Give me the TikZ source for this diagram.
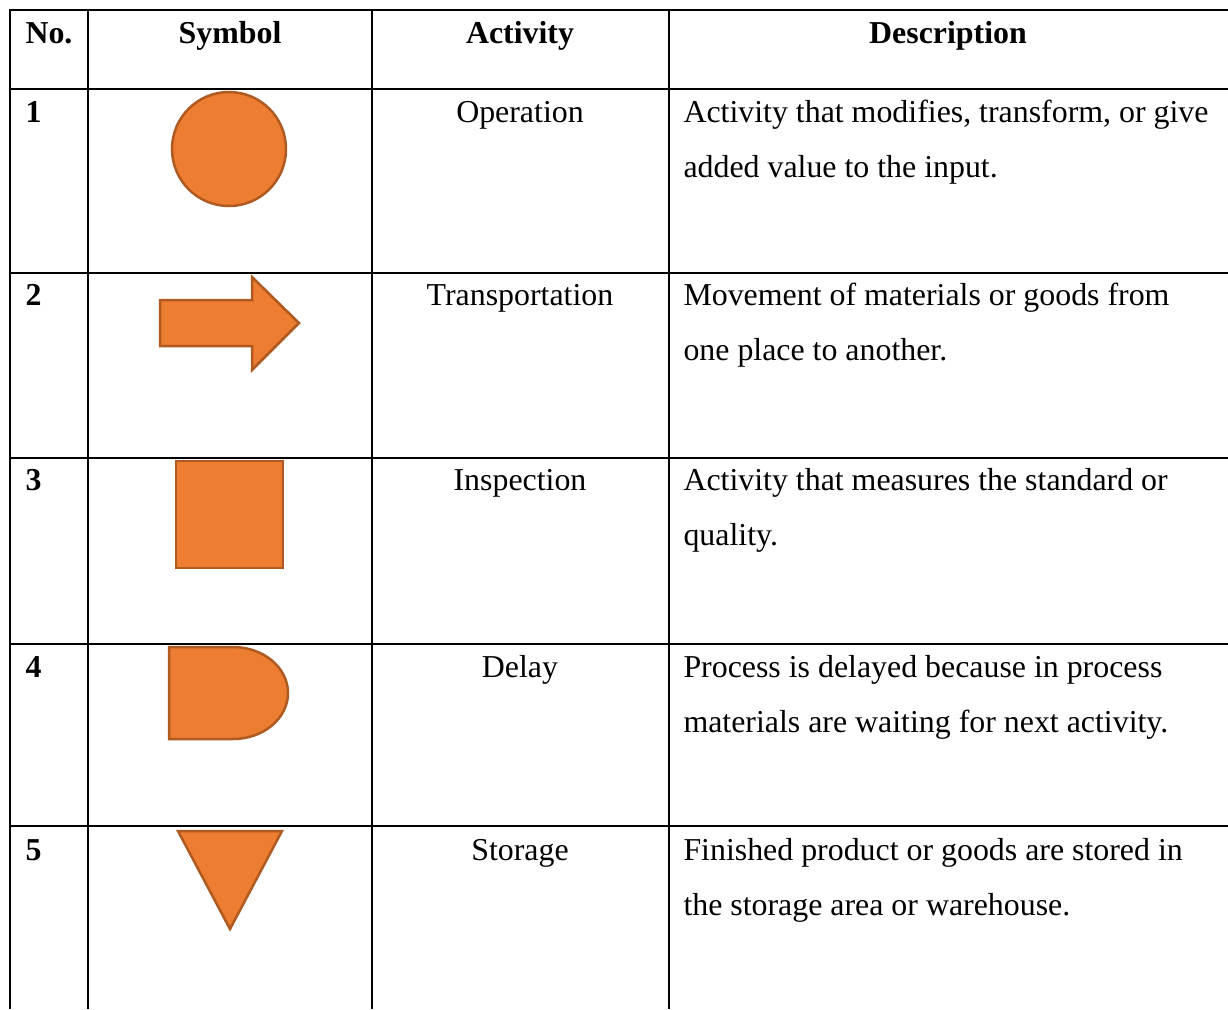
\documentclass[tikz,border=0pt]{standalone}
\usepackage{fontspec}
\setmainfont{Liberation Serif}
\definecolor{symfill}{HTML}{ED7D31}
\definecolor{symline}{HTML}{AE5A21}
\tikzset{
  tablerule/.style = {line width=0.85pt},
  symbol/.style = {fill=symfill, draw=symline, line width=1pt},
  head/.style = {font=\fontsize{12.75}{15}\selectfont\bfseries, inner sep=0pt, anchor=base},
  cell/.style = {font=\fontsize{12.75}{15}\selectfont, inner sep=0pt, anchor=base},
  desc/.style = {font=\fontsize{12.75}{15}\selectfont, inner sep=0pt, anchor=base west}
}
\begin{document}
\begin{tikzpicture}[x = 0.4pt, y = -0.4pt]
    \useasboundingbox (0, 0) rectangle (1228, 1009);
    % table rules
    \draw [tablerule] (10, 1009) -- (10, 10) -- (1228, 10);
    \foreach \xc in {88, 372, 669}
        \draw [tablerule] (\xc, 10) -- (\xc, 1009);
    \foreach \yr in {89, 273, 458, 644, 826}
        \draw [tablerule] (10, \yr) -- (1228, \yr);
    % header
    \node [head, anchor=base west] (h-no) at (25, 43) {No.};
    \node [head] (h-sym) at (230, 43) {Symbol};
    \node [head] (h-act) at (520, 43) {Activity};
    \node [head] (h-desc) at (948, 43) {Description};
    % numbers
    \foreach \n/\yb in {1/122, 2/305, 3/490, 4/677, 5/860}
        \node [head, anchor=base west] (no-\n) at (25, \yb) {\n};
    % activities
    \node [cell] (act-1) at (520, 122) {Operation};
    \node [cell] (act-2) at (520, 305) {Transportation};
    \node [cell] (act-3) at (520, 490) {Inspection};
    \node [cell] (act-4) at (520, 677) {Delay};
    \node [cell] (act-5) at (520, 860) {Storage};
    % descriptions
    \node [desc] (desc-1a) at (683, 122) {Activity that modifies, transform, or give};
    \node [desc] (desc-1b) at (683, 177) {added value to the input.};
    \node [desc] (desc-2a) at (683, 305) {Movement of materials or goods from};
    \node [desc] (desc-2b) at (683, 360) {one place to another.};
    \node [desc] (desc-3a) at (683, 490) {Activity that measures the standard or};
    \node [desc] (desc-3b) at (683, 545) {quality.};
    \node [desc] (desc-4a) at (683, 677) {Process is delayed because in process};
    \node [desc] (desc-4b) at (683, 732) {materials are waiting for next activity.};
    \node [desc] (desc-5a) at (683, 860) {Finished product or goods are stored in};
    \node [desc] (desc-5b) at (683, 915) {the storage area or warehouse.};
    % symbols
    \draw [symbol] (229, 149) circle [radius=22.8pt];
    \draw [symbol] (160, 300) -- (252, 300) -- (252, 277) -- (299, 323)
        -- (252, 370) -- (252, 346) -- (160, 346) -- cycle;
    \draw [symbol] (176, 461) rectangle (283, 568);
    \draw [symbol] (169, 647) -- (233, 647)
        arc [start angle=90, end angle=-90, x radius=22pt, y radius=18.4pt]
        -- (169, 739) -- cycle;
    \draw [symbol] (178, 831) -- (282, 831) -- (230, 929) -- cycle;
\end{tikzpicture}
\end{document}
